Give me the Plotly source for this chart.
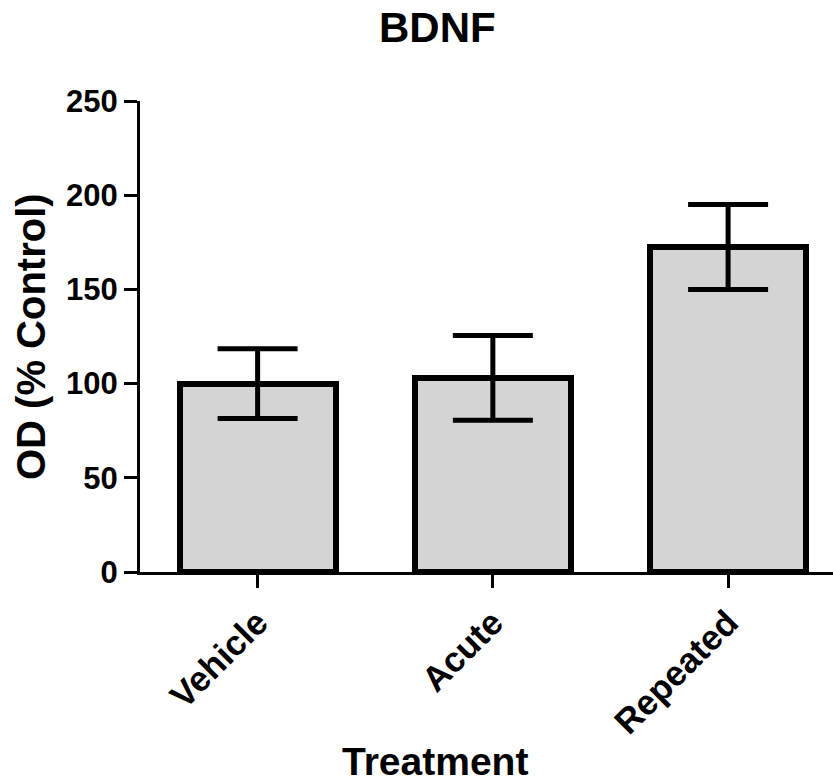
import plotly.graph_objects as go

categories = ["Vehicle", "Acute", "Repeated"]
means = [100, 103, 172.5]
sem = [18.5, 22.5, 22.5]
y_ticks = [0, 50, 100, 150, 200, 250]

W, H = 833, 783
L, R, T, B = 140, 0, 101, 211
FONT = "Liberation Sans, Arial, Helvetica, sans-serif"

fig = go.Figure()
fig.add_trace(go.Bar(
    x=categories, y=means, width=0.663,
    marker=dict(color="#d4d4d4", line=dict(color="black", width=6)),
    error_y=dict(type="data", array=sem, visible=True, color="black",
                 thickness=5, width=40),
    showlegend=False,
))

pw = W - L - R
ph = H - T - B

def px_x(x):
    return (x - L) / pw

def px_y(y):
    return 1 - (y - T) / ph

fig.update_layout(
    width=W, height=H,
    margin=dict(l=L, r=R, t=T, b=B, pad=0),
    plot_bgcolor="white", paper_bgcolor="white",
    font=dict(family=FONT, color="black"),
    bargap=0,
    xaxis=dict(
        range=[-0.5, 2.446], showgrid=False, zeroline=False,
        showline=True, linecolor="black", linewidth=3,
        ticks="outside", ticklen=13, tickwidth=3, tickcolor="black",
        tickangle=-45,
        tickfont=dict(family=FONT, size=35, weight="bold", color="black"),
    ),
    yaxis=dict(
        range=[0, 250], tickvals=y_ticks, showgrid=False, zeroline=False,
        showline=True, linecolor="black", linewidth=3,
        ticks="outside", ticklen=13, tickwidth=3, tickcolor="black",
        tickfont=dict(family=FONT, size=31, weight="bold", color="black"),
    ),
    annotations=[
        dict(text="<b>BDNF</b>", xref="paper", yref="paper",
             x=px_x(437), y=px_y(27), xanchor="center", yanchor="middle",
             showarrow=False, font=dict(family=FONT, size=42, color="black")),
        dict(text="<b>Treatment</b>", xref="paper", yref="paper",
             x=px_x(435), y=px_y(761), xanchor="center", yanchor="middle",
             showarrow=False, font=dict(family=FONT, size=39, color="black")),
        dict(text="<b>OD (% Control)</b>", xref="paper", yref="paper",
             x=px_x(31), y=px_y(337), xanchor="center", yanchor="middle",
             textangle=-90, showarrow=False,
             font=dict(family=FONT, size=40, color="black")),
    ],
)

fig.write_html("out.html")
